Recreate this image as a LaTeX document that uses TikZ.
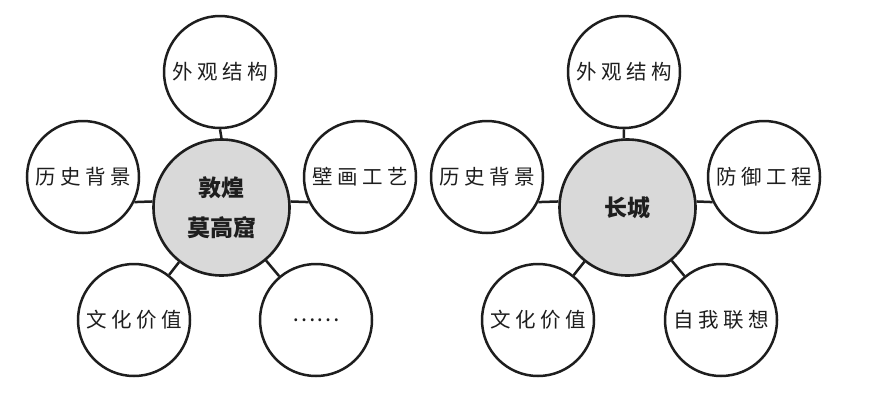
\documentclass[tikz,border=0pt]{standalone}
\usepackage{fontspec}
\newfontfamily\cjk{Noto Sans CJK SC}
\newfontfamily\cjksp[LetterSpace=22]{Noto Sans CJK SC}
\definecolor{hubfill}{HTML}{D9D9D9}
\definecolor{ink}{HTML}{1E1E1E}
\begin{document}
\begin{tikzpicture}[x=1pt,y=-1pt,
  hub/.style={circle,draw=ink,line width=2.6pt,fill=hubfill,minimum size=136pt,inner sep=0pt,
    font=\cjk\fontsize{23}{40}\selectfont\bfseries,text=ink,align=center},
  leaf/.style={circle,draw=ink,line width=2.5pt,fill=white,minimum size=112pt,inner sep=0pt,
    font=\cjksp\fontsize{20.5}{24}\selectfont,text=ink},
  link/.style={draw=ink,line width=2.5pt}]
\useasboundingbox (0,0) rectangle (896,405);
\fill[white] (0,0) rectangle (896,405);
% left map
\node[hub] (c1) at (221.5,207.5) {敦煌\\莫高窟};
\node[leaf] (t1) at (220,72) {外观结构};
\node[leaf] (l1) at (83,177) {历史背景};
\node[leaf] (r1) at (360,177) {壁画工艺};
\node[leaf] (bl1) at (134,320) {文化价值};
\node[leaf,font=\cjk\fontsize{22}{24}\selectfont] (br1) at (316,320) {……};
\draw[link] (c1.90) -- (t1.-90);
\draw[link] (c1.175) -- (l1.-26);
\draw[link] (c1.5) -- (r1.206);
\draw[link] (c1) -- (bl1);
\draw[link] (c1) -- (br1);
% right map
\node[hub] (c2) at (627.5,207.5) {长城};
\node[leaf] (t2) at (624,72) {外观结构};
\node[leaf] (l2) at (487,177) {历史背景};
\node[leaf] (r2) at (764,177) {防御工程};
\node[leaf] (bl2) at (538,320) {文化价值};
\node[leaf] (br2) at (721,320) {自我联想};
\draw[link] (c2.93) -- (t2.-90);
\draw[link] (c2.175) -- (l2.-26);
\draw[link] (c2.5) -- (r2.206);
\draw[link] (c2) -- (bl2);
\draw[link] (c2) -- (br2);
\end{tikzpicture}
\end{document}
